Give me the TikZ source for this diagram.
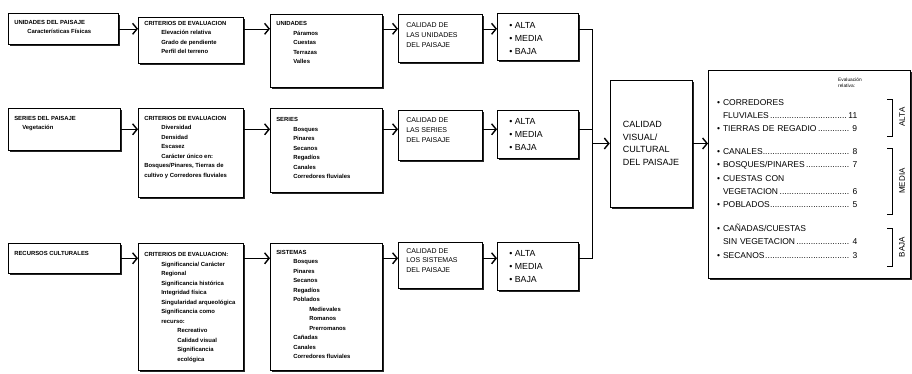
\documentclass[tikz,border=0pt]{standalone}
\usepackage{fontspec}
\setmainfont{Liberation Sans}
\usetikzlibrary{positioning}
\usetikzlibrary{arrows.meta}
\usetikzlibrary{shadows}
\newcommand{\indone}{\hspace*{17pt}}
\newcommand{\indtwo}{\hspace*{33pt}}
\newcommand{\leaderdots}{\leaders\hbox to 2.4pt{\hss.\hss}\hfill\,}
\newcommand{\tikzcard}[6][]{%
% box with its text set from the top
\node[card,anchor=north west,#1] (#2) at (#3) {\parbox[c][\dimexpr#5pt-8pt\relax][t]{\dimexpr#4pt-12pt\relax}{\raggedright #6}};
}

\begin{document}
\begin{tikzpicture}[x=1pt, y=-1pt,
  card/.style={draw, line width=0.6pt, fill=white, inner xsep=6pt, inner ysep=4pt,
    drop shadow={shadow xshift=1.6pt, shadow yshift=-1.8pt, fill=black!85, opacity=1},
    font=\fontsize{5.9}{9.5}\selectfont\bfseries},
  link/.style={line width=0.6pt, -{Straight Barb[length=4.5pt,width=11pt,line width=1.4pt]}},
  wire/.style={line width=0.6pt},
  bracket/.style={line width=0.8pt},
  level/.style={font=\fontsize{8.8}{13}\selectfont},
  quality/.style={font=\fontsize{7}{9.8}\selectfont}]
\useasboundingbox (0,0) rectangle (912,373);
% first row
\tikzcard{a1}{8,13}{110}{31}{\vspace*{3pt}UNIDADES DEL PAISAJE\\\hspace*{13pt}Características Físicas}
\tikzcard{b1}{138,17}{105}{46}{CRITERIOS DE EVALUACION\\\indone Elevación relativa\\\indone Grado de pendiente\\\indone Perfil del terreno}
\tikzcard{c1}{270,14}{112}{73}{\vspace*{3.5pt}UNIDADES\\\indone Páramos\\\indone Cuestas\\\indone Terrazas\\\indone Valles}
\tikzcard[quality]{d1}{398,14}{84}{48}{\vspace*{4.5pt}\hspace*{2pt}CALIDAD DE\\\hspace*{2pt}LAS UNIDADES\\\hspace*{2pt}DEL PAISAJE}
\tikzcard[level]{e1}{497,13}{81}{47}{\vspace*{5pt}\hspace*{6pt}\textbullet\ ALTA\\\hspace*{6pt}\textbullet\ MEDIA\\\hspace*{6pt}\textbullet\ BAJA}
% second row
\tikzcard{a2}{8,108}{112}{42}{\vspace*{4pt}SERIES DEL PAISAJE\\\hspace*{8pt}Vegetación}
\tikzcard{b2}{138,108}{105}{89}{\vspace*{4pt}CRITERIOS DE EVALUACION\\\indone Diversidad\\\indone Densidad\\\indone Escasez\\\indone Carácter único en:\\Bosques/Pinares, Tierras de\\cultivo y Corredores fluviales}
\tikzcard{c2}{270,108}{112}{84}{\vspace*{5.5pt}SERIES\\\indone Bosques\\\indone Pinares\\\indone Secanos\\\indone Regadíos\\\indone Canales\\\indone Corredores fluviales}
\tikzcard[quality]{d2}{398,110}{84}{50}{\vspace*{3.5pt}\hspace*{2pt}CALIDAD DE\\\hspace*{2pt}LAS SERIES\\\hspace*{2pt}DEL PAISAJE}
\tikzcard[level]{e2}{497,110}{81}{48}{\vspace*{4pt}\hspace*{6pt}\textbullet\ ALTA\\\hspace*{6pt}\textbullet\ MEDIA\\\hspace*{6pt}\textbullet\ BAJA}
% third row
\tikzcard{a3}{8,243}{112}{30}{\vspace*{4pt}RECURSOS CULTURALES}
\tikzcard{b3}{138,243}{105}{127}{\vspace*{5.5pt}CRITERIOS DE EVALUACION:\\\indone Significancia/ Carácter\\\indone Regional\\\indone Significancia histórica\\\indone Integridad física\\\indone Singularidad arqueológica\\\indone Significancia como\\\indone recurso:\\\indtwo Recreativo\\\indtwo Calidad visual\\\indtwo Significancia\\\indtwo ecológica}
\tikzcard{c3}{270,243}{112}{127}{\vspace*{3pt}SISTEMAS\\\indone Bosques\\\indone Pinares\\\indone Secanos\\\indone Regadíos\\\indone Poblados\\\indtwo Medievales\\\indtwo Romanos\\\indtwo Prerromanos\\\indone Cañadas\\\indone Canales\\\indone Corredores fluviales}
\tikzcard[quality]{d3}{398,242}{84}{46}{\vspace*{2pt}\hspace*{2pt}CALIDAD DE\\\hspace*{2pt}LOS SISTEMAS\\\hspace*{2pt}DEL PAISAJE}
\tikzcard[level]{e3}{497,242}{81}{48}{\vspace*{4pt}\hspace*{6pt}\textbullet\ ALTA\\\hspace*{6pt}\textbullet\ MEDIA\\\hspace*{6pt}\textbullet\ BAJA}
% synthesis
\node[card, minimum width=82, minimum height=127, align=left,
  font=\fontsize{9}{12.7}\selectfont] (f) at (651,143.5) {CALIDAD\\VISUAL/\\CULTURAL\\DEL PAISAJE};
\node[card, anchor=north west, minimum width=202, minimum height=208] (g) at (708,70) {};
\node[anchor=north west, inner sep=0, font=\fontsize{4.8}{6}\selectfont, align=left] (note) at (838,78) {Evaluación\\relativa:};
\node[anchor=north west, inner sep=0, text width=140pt, align=left,
  font=\fontsize{8.5}{13.4}\selectfont] (rank) at (717,99) {%
\textbullet\ CORREDORES\\
\hphantom{\textbullet\ }FLUVIALES\leaderdots 11\\
\textbullet\ TIERRAS DE REGADIO\leaderdots 9\\[9pt]
\textbullet\ CANALES\leaderdots 8\\
\textbullet\ BOSQUES/PINARES\leaderdots 7\\
\textbullet\ CUESTAS CON\\
\hphantom{\textbullet\ }VEGETACION\leaderdots 6\\
\textbullet\ POBLADOS\leaderdots 5\\[10pt]
\textbullet\ CAÑADAS/CUESTAS\\
\hphantom{\textbullet\ }SIN VEGETACION\leaderdots 4\\
\textbullet\ SECANOS\leaderdots 3};
% brackets
\draw[bracket] (887,99) -- (892,99) -- (892,136) -- (887,136);
\draw[bracket] (887,148) -- (892,148) -- (892,214) -- (887,214);
\draw[bracket] (887,228) -- (892,228) -- (892,266) -- (887,266);
\node[rotate=90, inner sep=0, font=\fontsize{8}{8}\selectfont] (alta) at (902,117) {ALTA};
\node[rotate=90, inner sep=0, font=\fontsize{8}{8}\selectfont] (media) at (902,181) {MEDIA};
\node[rotate=90, inner sep=0, font=\fontsize{8}{8}\selectfont] (baja) at (902,247) {BAJA};
% connectors
\foreach \r in {1,2,3} {
  \draw[link] (a\r.east) -- (a\r.east -| b\r.west);
  \draw[link] (a\r.east -| b\r.east) -- (a\r.east -| c\r.west);
  \draw[link] (a\r.east -| c\r.east) -- (a\r.east -| d\r.west);
  \draw[link] (a\r.east -| d\r.east) -- (a\r.east -| e\r.west);
}
\coordinate (bus) at (592,0);
\draw[wire] (a1.east -| e1.east) -- (a1.east -| bus) -- (a3.east -| bus) -- (a3.east -| e3.east);
\draw[wire] (a2.east -| e2.east) -- (a2.east -| bus);
\draw[link] (f.west -| bus) -- (f.west);
\draw[link] (f.east) -- (f.east -| g.west);
\end{tikzpicture}
\end{document}
